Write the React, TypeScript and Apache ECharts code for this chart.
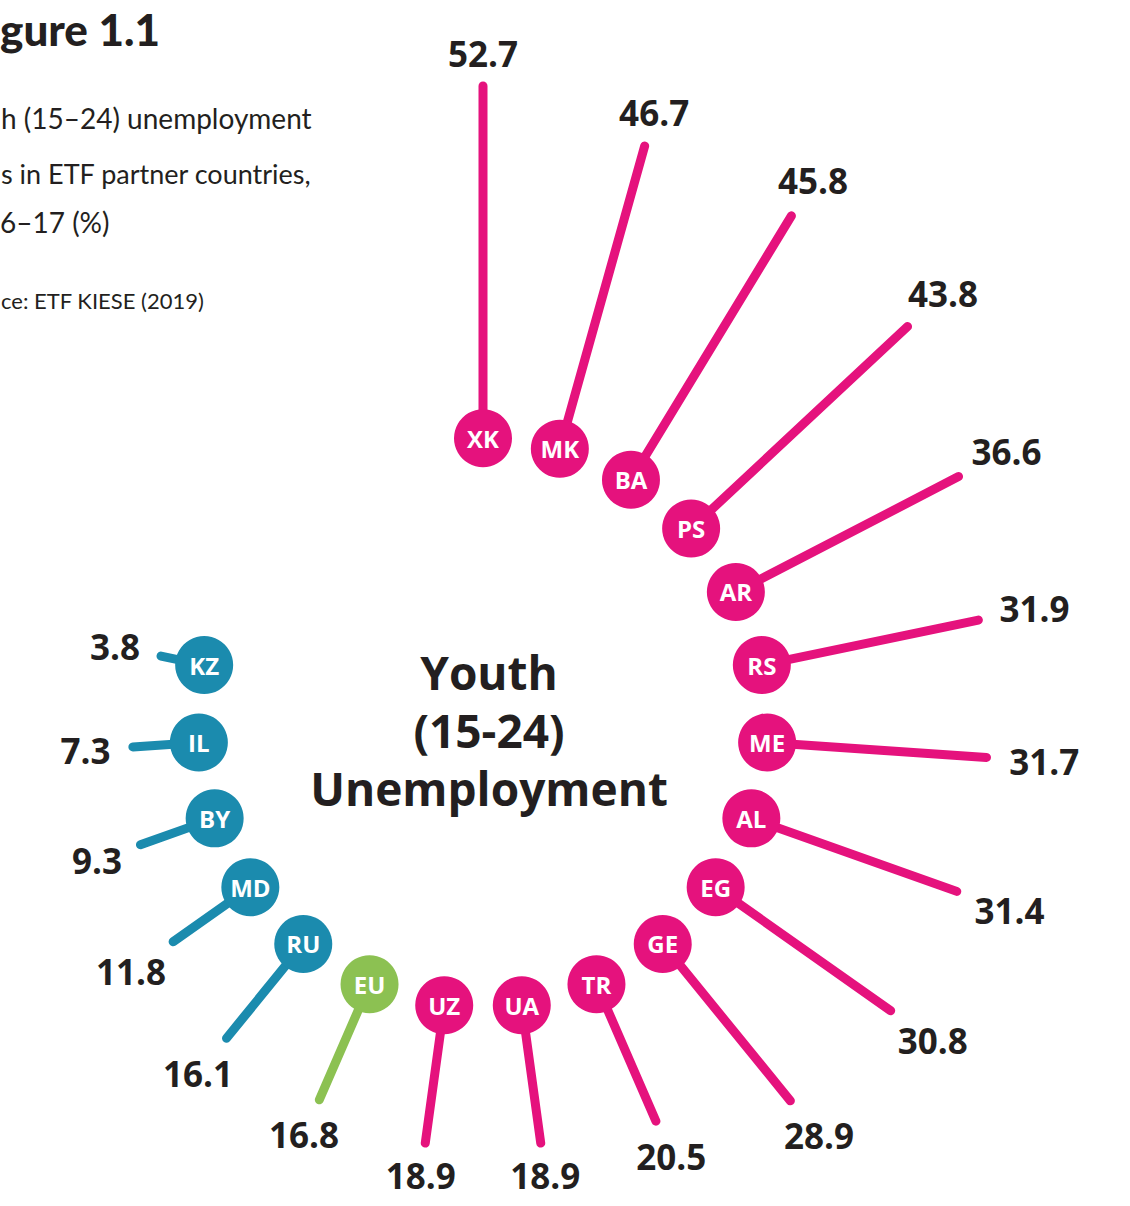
import React, { useEffect, useRef } from 'react';
import * as echarts from 'echarts';

// ---- data ----
const ISO = ['XK', 'MK', 'BA', 'PS', 'AR', 'RS', 'ME', 'AL', 'EG', 'GE', 'TR', 'UA', 'UZ', 'EU', 'RU', 'MD', 'BY', 'IL', 'KZ'];
const RATE = [52.7, 46.7, 45.8, 43.8, 36.6, 31.9, 31.7, 31.4, 30.8, 28.9, 20.5, 18.9, 18.9, 16.8, 16.1, 11.8, 9.3, 7.3, 3.8];
// header texts, as far as they are visible in the (cropped) figure
const TITLE = 'gure 1.1';
const SUBTITLE_LINES = ['h (15–24) unemployment', 's in ETF partner countries,', '6–17 (%)'];
const SOURCE = 'ce: ETF KIESE (2019)';
const CENTER_TEXT = 'Youth\n(15-24)\nUnemployment';

// ---- layout / style ----
const SLOTS = 23; // angular slots around the ring (last ones left empty)
const RING_VALUE = -3.2; // radius-axis value where the country bubbles sit
const PINK = '#E5127D';
const BLUE = '#1B8BAE';
const GREEN = '#8CC152';
const INK = '#231F20';
const FONT = '"Open Sans", "DejaVu Sans", sans-serif';
const HEAD_FONT = 'Lato, "Open Sans", sans-serif';

const EU_RATE = RATE[ISO.indexOf('EU')];
const colorOf = (i: number) => (ISO[i] === 'EU' ? GREEN : RATE[i] > EU_RATE ? PINK : BLUE);

export default function App() {
  const ref = useRef<HTMLDivElement>(null);
  useEffect(() => {
    const chart = echarts.init(ref.current!, null, { renderer: 'svg' });
    const head = (text: string, x: number, y: number, fontSize: number, weight: any = 'normal') => ({
      type: 'text',
      x,
      y,
      silent: true,
      style: { text, textAlign: 'left', textVerticalAlign: 'middle', fontSize, fontWeight: weight, fontFamily: HEAD_FONT, fill: INK },
    });
    chart.setOption({
      animation: false,
      backgroundColor: '#ffffff',
      polar: { center: [483, 723], radius: [0, 683] },
      angleAxis: { type: 'value', min: 0, max: SLOTS, startAngle: 90, clockwise: true, show: false },
      radiusAxis: { type: 'value', min: -48.4, max: 60, show: false },
      graphic: [
        head(TITLE, 0, 29, 44, 900),
        head(SUBTITLE_LINES[0], 1, 118, 28),
        head(SUBTITLE_LINES[1], 1, 173, 27),
        head(SUBTITLE_LINES[2], 0, 222, 28),
        head(SOURCE, 1, 300, 22),
        { type: 'text', x: 489, y: 730, silent: true, style: { text: CENTER_TEXT, textAlign: 'center', textVerticalAlign: 'middle', fontSize: 46, lineHeight: 58, fontWeight: 'bold', fontFamily: FONT, fill: INK } },
      ],
      series: [
        {
          type: 'custom',
          coordinateSystem: 'polar',
          silent: true,
          data: ISO.map((_, i) => [i, RATE[i]]),
          renderItem: (params: any, api: any) => {
            const i = api.value(0);
            const v = api.value(1);
            const cs = params.coordSys;
            const p0 = api.coord([RING_VALUE, i]);
            const p1 = api.coord([v, i]);
            const dx = p1[0] - cs.cx;
            const dy = p1[1] - cs.cy;
            const len = Math.hypot(dx, dy);
            const ux = dx / len;
            const uy = dy / len;
            const txt = v.toFixed(1);
            const hw = txt.length * 10.5;
            const hh = 16;
            const d = Math.sqrt((hw * ux) ** 2 + (hh * uy) ** 2) + 16;
            const col = colorOf(i);
            return {
              type: 'group',
              children: [
                { type: 'line', shape: { x1: p0[0], y1: p0[1], x2: p1[0], y2: p1[1] }, style: { stroke: col, lineWidth: 9, lineCap: 'round' } },
                { type: 'circle', shape: { cx: p0[0], cy: p0[1], r: 29 }, style: { fill: col } },
                { type: 'text', x: p0[0], y: p0[1], style: { text: ISO[i], textAlign: 'center', textVerticalAlign: 'middle', fontSize: 24, fontWeight: 'bold', fontFamily: FONT, fill: '#ffffff' } },
                { type: 'text', x: p1[0] + ux * d, y: p1[1] + uy * d, style: { text: txt, textAlign: 'center', textVerticalAlign: 'middle', fontSize: 35, fontWeight: 'bold', fontFamily: FONT, fill: INK } },
              ],
            };
          },
        },
      ],
    });
    return () => chart.dispose();
  }, []);
  return <div ref={ref} style={{ position: 'absolute', left: 0, top: 0, width: 1130, height: 1206 }} />;
}
